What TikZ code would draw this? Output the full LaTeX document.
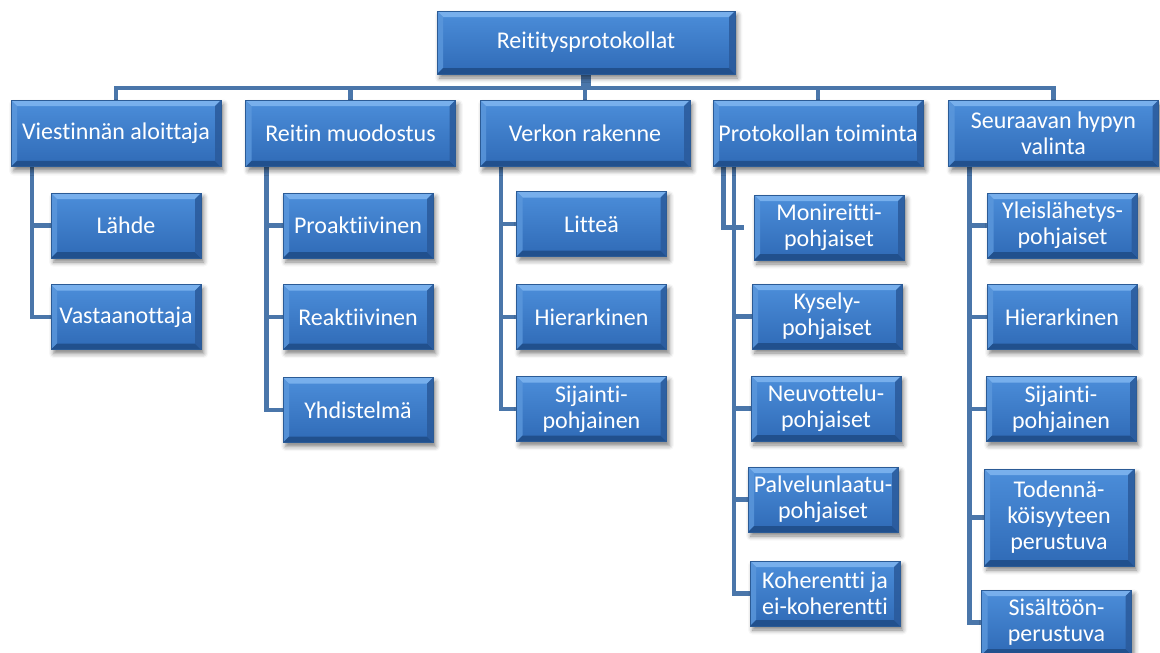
\documentclass[tikz,border=0pt]{standalone}
\usepackage{fontspec}
\setmainfont{Carlito}[Ligatures=NoCommon]
\usetikzlibrary{shadows.blur}

\definecolor{boxtop}{HTML}{4C8EDA}
\definecolor{boxbot}{HTML}{2F6AB6}
\definecolor{bevlight}{HTML}{80B6F0}
\definecolor{bevleft}{HTML}{5C98DC}
\definecolor{bevdark}{HTML}{1F4C86}
\definecolor{bevright}{HTML}{2A5A9B}
\definecolor{boxedge}{HTML}{2B5B96}
\definecolor{linkblue}{HTML}{4A76AA}

\pgfdeclarelayer{bg}
\pgfsetlayers{bg,main}

\newcommand{\bevw}{4.5pt}

\tikzset{
  box/.style={rectangle, draw=boxedge, line width=0.6pt,
    top color=boxtop, bottom color=boxbot,
    text=white, align=center, inner sep=2pt,
    font=\fontsize{18}{19.5}\selectfont,
    blur shadow={shadow xshift=2pt, shadow yshift=-3pt,
                 shadow blur radius=3.5pt, shadow opacity=50},
    path picture={
      \fill[bevlight, fill opacity=0.85]
        (path picture bounding box.north west) -- (path picture bounding box.north east)
        -- ([xshift=-\bevw,yshift=-\bevw]path picture bounding box.north east)
        -- ([xshift=\bevw,yshift=-\bevw]path picture bounding box.north west) -- cycle;
      \fill[bevleft, fill opacity=0.8]
        (path picture bounding box.north west)
        -- ([xshift=\bevw,yshift=-\bevw]path picture bounding box.north west)
        -- ([xshift=\bevw,yshift=\bevw]path picture bounding box.south west)
        -- (path picture bounding box.south west) -- cycle;
      \fill[bevdark, fill opacity=0.85]
        (path picture bounding box.south west) -- (path picture bounding box.south east)
        -- ([xshift=-\bevw,yshift=\bevw]path picture bounding box.south east)
        -- ([xshift=\bevw,yshift=\bevw]path picture bounding box.south west) -- cycle;
      \fill[bevright, fill opacity=0.85]
        (path picture bounding box.north east)
        -- ([xshift=-\bevw,yshift=-\bevw]path picture bounding box.north east)
        -- ([xshift=-\bevw,yshift=\bevw]path picture bounding box.south east)
        -- (path picture bounding box.south east) -- cycle;
    }},
  rootbox/.style={box, minimum width=223.5pt, minimum height=47.25pt},
  lvlbox/.style={box, minimum width=157.5pt, minimum height=50pt},
  leafbox/.style={box, minimum width=112.5pt, minimum height=48.75pt},
  tallbox/.style={box, minimum width=112.5pt, minimum height=72.75pt},
  conn/.style={draw=linkblue, line width=3.4pt},
  stem/.style={draw=linkblue, line width=8pt},
}

\begin{document}
\begin{tikzpicture}[x=0.75pt, y=-0.75pt]
  \useasboundingbox (0,0) rectangle (1160,653);

  % top of the tree
  \node[rootbox] (root) at (586,42.5) {Reititysprotokollat};
  \coordinate (bus) at (586,88);

  % second level
  \node[lvlbox] (a) at (116,133.5)   {Viestinnän aloittaja};
  \node[lvlbox] (b) at (350.5,133.5) {Reitin muodostus};
  \node[lvlbox] (c) at (585,133.5)   {Verkon rakenne};
  \node[lvlbox] (d) at (818,133.5)   {Protokollan toiminta};
  \node[lvlbox] (e) at (1053.5,133.5){Seuraavan hypyn\\valinta};

  % leaves
  \node[leafbox] (a1) at (126,225.5) {Lähde};
  \node[leafbox] (a2) at (126,317)   {Vastaanottaja};

  \node[leafbox] (b1) at (358,225.5) {Proaktiivinen};
  \node[leafbox] (b2) at (358,317)   {Reaktiivinen};
  \node[leafbox] (b3) at (358,410)   {Yhdistelmä};

  \node[leafbox] (c1) at (591.5,224) {Litteä};
  \node[leafbox] (c2) at (591.5,317) {Hierarkinen};
  \node[leafbox] (c3) at (591.5,409) {Sijainti-\\pohjainen};

  \node[leafbox] (d1) at (829,227.5) {Monireitti-\\pohjaiset};
  \node[leafbox] (d2) at (827,316.5) {Kysely-\\pohjaiset};
  \node[leafbox] (d3) at (826,408.5) {Neuvottelu-\\pohjaiset};
  \node[leafbox] (d4) at (823,499.5) {Palvelunlaatu-\\pohjaiset};
  \node[leafbox] (d5) at (825,593.5) {Koherentti ja\\ei-koherentti};

  \node[leafbox] (e1) at (1062.5,225.5) {Yleislähetys-\\pohjaiset};
  \node[leafbox] (e2) at (1062,317)     {Hierarkinen};
  \node[leafbox] (e3) at (1061,409)     {Sijainti-\\pohjainen};
  \node[tallbox] (e4) at (1059,517.5)   {Todennä-\\köisyyteen\\perustuva};
  \node[leafbox] (e5) at (1056.5,622.5) {Sisältöön-\\perustuva};

  \begin{pgfonlayer}{bg}
    % root to the horizontal bus
    \draw[stem] (root.south) -- (root.south |- bus);
    \foreach \n in {a,b,c,d,e}
      \draw[conn] (root.south |- bus) -| (\n.north);
    \draw[conn] (a.north |- bus) -- (e.north |- bus);

    % leaves hang from a vertical line on the left of each parent
    \foreach \n in {a1,a2}
      \draw[conn] ([xshift=16pt]a.south west) |- (\n.west);
    \foreach \n in {b1,b2,b3}
      \draw[conn] ([xshift=16pt]b.south west) |- (\n.west);
    \foreach \n in {c1,c2,c3}
      \draw[conn] ([xshift=16pt]c.south west) |- (\n.west);
    \draw[conn] ([xshift=8pt]d.south west) |- ([xshift=-7pt]d1.west);
    \foreach \n in {d2,d3,d4,d5}
      \draw[conn] ([xshift=16pt]d.south west) |- (\n.west);
    \foreach \n in {e1,e2,e3,e4,e5}
      \draw[conn] ([xshift=16pt]e.south west) |- (\n.west);
  \end{pgfonlayer}
\end{tikzpicture}
\end{document}
